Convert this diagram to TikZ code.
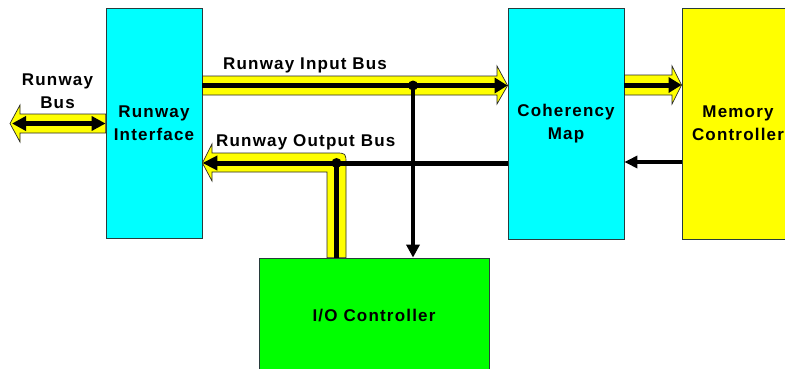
\documentclass[tikz,border=0pt]{standalone}
\usepackage{fontspec}
\setmainfont[LetterSpace=7]{Liberation Sans}
\usetikzlibrary{arrows.meta}
\definecolor{boxline}{RGB}{40,60,60}
\definecolor{busline}{RGB}{40,40,40}
\definecolor{cyanbox}{RGB}{0,255,255}
\definecolor{yellowbox}{RGB}{255,255,0}
\definecolor{greenbox}{RGB}{0,255,0}
\begin{document}
\begin{tikzpicture}[x=1pt,y=-1pt,
  box/.style={draw=boxline, line width=0.8pt, inner sep=0pt, align=center,
    font=\bfseries\fontsize{17}{23}\selectfont},
  lbl/.style={inner sep=0pt, font=\bfseries\fontsize{17}{23}\selectfont},
  bus/.style={fill=yellowbox, draw=busline, line width=0.7pt},
  wire/.style={line width=5pt, -{Triangle[length=13pt,width=15pt]}},
  thin wire/.style={line width=4.5pt, -{Triangle[length=13pt,width=12pt]}},
  dot/.style={fill=black}
]
\useasboundingbox (0,0) rectangle (785,368);
\clip (0,0) rectangle (785,368);

% boxes
\node[box, fill=cyanbox, minimum width=96pt, minimum height=230pt] (ri) at (154,123) {Runway\\Interface};
\node[box, fill=cyanbox, minimum width=116pt, minimum height=231pt] (cm) at (566,123.5) {Coherency\\Map};
\node[box, fill=yellowbox, minimum width=112pt, minimum height=231pt] (mc) at (738,123.5) {Memory\\Controller};
\node[box, fill=greenbox, minimum width=230pt, minimum height=115pt] (io) at (374,315.5) {I/O Controller};

% junctions
\coordinate (j1) at (413,85.5);
\coordinate (j2) at (336.5,163);

% runway bus (left)
\path[bus] (10,123.5) -- (20,105) -- (20,114) -- (ri.west |- 0,114) -- (ri.west |- 0,133) -- (20,133) -- (20,142) -- cycle;
\draw[line width=5pt, {Triangle[length=14pt,width=14pt]}-{Triangle[length=14pt,width=14pt]}] (12,123.5) -- (ri.west |- 0,123.5);

% runway input bus
\path[bus] (ri.east |- 0,76) -- (497,76) -- (497,66) -- (cm.west |- 0,85.5) -- (497,104) -- (497,95) -- (ri.east |- 0,95) -- cycle;
\draw[wire] (ri.east |- j1) -- (cm.west |- j1);
\draw[line width=4.5pt, -{Triangle[length=13pt,width=13pt]}] (j1) -- (j1 |- io.north);
\fill[dot] (j1) circle (5pt);

% runway output bus
\path[bus] (ri.east |- j2) -- (212,144) -- (212,153) -- (335,153) .. controls (346,153) .. (346,164) -- (io.north -| 346,0) -- (io.north -| 327,0) -- (327,172) -- (212,172) -- (212,181) -- cycle;
\draw[line width=5pt, -{Triangle[length=15pt,width=14pt]}] (cm.west |- j2) -- (ri.east |- j2);
\draw[line width=4.5pt] (j2 |- io.north) -- (j2);
\fill[dot] (j2) circle (5pt);

% coherency map -> memory controller
\path[bus] (cm.east |- 0,75) -- (672,75) -- (672,66) -- (mc.west |- 0,85) -- (672,104) -- (672,95) -- (cm.east |- 0,95) -- cycle;
\draw[wire] (cm.east |- 0,85) -- (mc.west |- 0,85);

% memory controller -> coherency map
\draw[thin wire] (mc.west |- 0,162) -- (cm.east |- 0,162);

% labels
\node[lbl, align=center] (rblbl) at (57.5,91) {Runway\\Bus};
\node[lbl, anchor=base west] (inlbl) at (223,69) {Runway Input Bus};
\node[lbl, anchor=base west] (outlbl) at (216,146) {Runway Output Bus};
\end{tikzpicture}
\end{document}
